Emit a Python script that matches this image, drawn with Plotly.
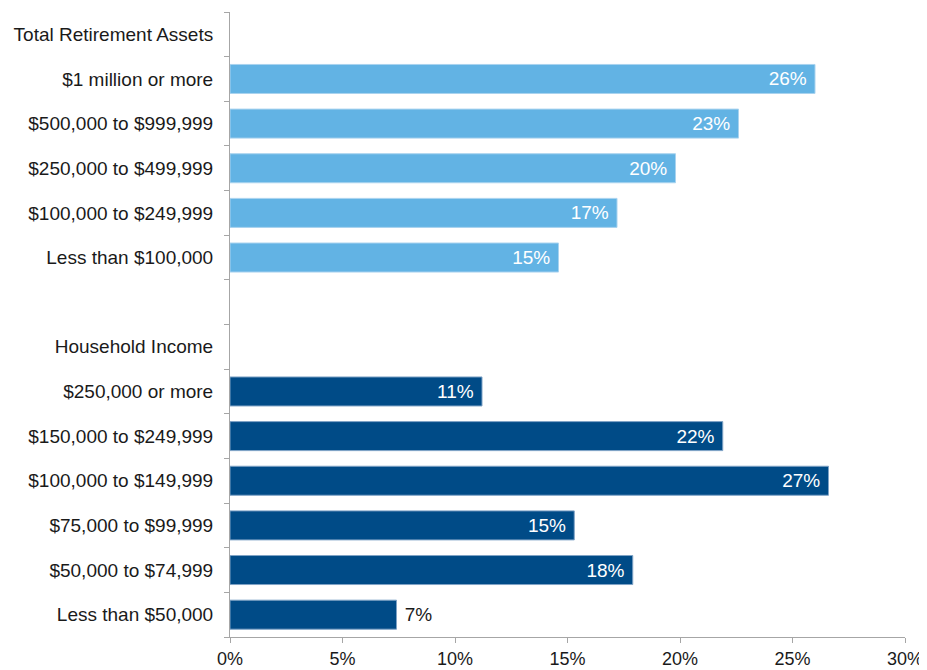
import plotly.graph_objects as go

categories = [
    "Total Retirement Assets",
    "$1 million or more",
    "$500,000 to $999,999",
    "$250,000 to $499,999",
    "$100,000 to $249,999",
    "Less than $100,000",
    " ",
    "Household Income",
    "$250,000 or more",
    "$150,000 to $249,999",
    "$100,000 to $149,999",
    "$75,000 to $99,999",
    "$50,000 to $74,999",
    "Less than $50,000",
]

asset_labels = ["$1 million or more", "$500,000 to $999,999", "$250,000 to $499,999",
                "$100,000 to $249,999", "Less than $100,000"]
asset_values = [26.0, 22.6, 19.8, 17.2, 14.6]

income_labels = ["$250,000 or more", "$150,000 to $249,999", "$100,000 to $149,999",
                 "$75,000 to $99,999", "$50,000 to $74,999", "Less than $50,000"]
income_values = [11.2, 21.9, 26.6, 15.3, 17.9, 7.4]

x_ticks = [0, 5, 10, 15, 20, 25, 30]
x_tick_labels = ["0%", "5%", "10%", "15%", "20%", "25%", "30%"]

FONT = "Liberation Sans, Arial, sans-serif"
FS = 19
NB = "\u00a0"

fig = go.Figure()
fig.add_trace(go.Bar(
    y=asset_labels, x=asset_values, orientation="h",
    marker=dict(color="#62B3E4", line=dict(color="#A9D3EF", width=1)),
    texttemplate="%{x:.0f}%" + NB,
    textposition="inside", insidetextanchor="end",
    insidetextfont=dict(color="white", size=FS, family=FONT),
    cliponaxis=False,
))
income_pos = ["inside" if v > 9 else "outside" for v in income_values]
income_tmpl = [("%{x:.0f}%" + NB) if p == "inside" else (NB + "%{x:.0f}%") for p in income_pos]
fig.add_trace(go.Bar(
    y=income_labels, x=income_values, orientation="h",
    marker=dict(color="#004B87", line=dict(color="#7FA3C6", width=1)),
    texttemplate=income_tmpl,
    textposition=income_pos, insidetextanchor="end",
    insidetextfont=dict(color="white", size=FS, family=FONT),
    outsidetextfont=dict(color="#1a1a1a", size=FS, family=FONT),
    cliponaxis=False,
))

fig.update_layout(
    width=919, height=662,
    margin=dict(l=222, r=22, t=4, b=33),
    paper_bgcolor="white", plot_bgcolor="white",
    showlegend=False,
    bargap=0.35, barmode="overlay",
    font=dict(family=FONT, size=FS, color="#1a1a1a"),
    uniformtext=dict(minsize=10, mode="show"),
)
fig.update_yaxes(
    type="category", categoryorder="array", categoryarray=categories,
    tickmode="array", tickvals=categories, ticktext=categories,
    range=[len(categories) - 0.5, -0.5],
    showline=True, linecolor="#A6A6A6", linewidth=1,
    ticks="outside", tickson="boundaries", ticklen=5, tickcolor="#A6A6A6",
    showgrid=False, zeroline=False, automargin=False,
    ticklabelstandoff=12,
    tickfont=dict(size=FS, family=FONT, color="#1a1a1a"),
)
fig.update_xaxes(
    range=[0, 30], tickmode="array", tickvals=x_ticks, ticktext=x_tick_labels,
    showline=True, linecolor="#A6A6A6", linewidth=1,
    ticks="outside", ticklen=5, tickcolor="#A6A6A6",
    showgrid=False, zeroline=False, automargin=False,
    tickfont=dict(size=18, family=FONT, color="#1a1a1a"),
)

fig.write_html("out.html")
